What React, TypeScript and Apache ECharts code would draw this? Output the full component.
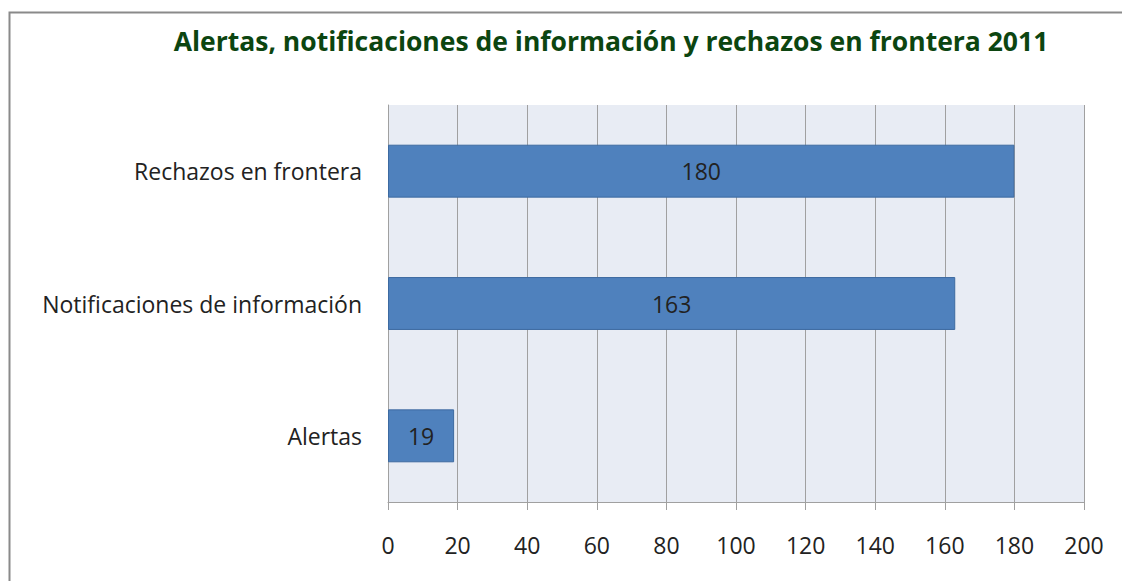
import React, { useEffect, useRef } from "react";
import * as echarts from "echarts";

const titleText = "Alertas, notificaciones de información y rechazos en frontera 2011";
const categories = ["Alertas", "Notificaciones de información", "Rechazos en frontera"];
const values = [19, 163, 180];

export default function App() {
  const ref = useRef<HTMLDivElement>(null);
  useEffect(() => {
    const chart = echarts.init(ref.current!, null, { renderer: "svg" });
    chart.setOption({
      animation: false,
      backgroundColor: "#ffffff",
      textStyle: { fontFamily: "Open Sans" },
      title: {
        text: titleText,
        left: 606,
        top: 22,
        textAlign: "center",
        textStyle: { fontFamily: "Open Sans", fontSize: 26.5, fontWeight: "bold", color: "#0c4510" },
      },
      graphic: [
        {
          type: "rect",
          shape: { x: 9.5, y: 12.5, width: 1200, height: 700 },
          style: { fill: "none", stroke: "#8a8a8a", lineWidth: 2 },
          silent: true,
        },
      ],
      grid: { left: 388, top: 105, width: 696, height: 397, containLabel: false, backgroundColor: "#e8ecf4", show: true, borderWidth: 0 },
      xAxis: {
        type: "value",
        min: 0,
        max: 200,
        interval: 20,
        axisLine: { show: true, lineStyle: { color: "#a0a0a0", width: 1 } },
        axisTick: { show: true, length: 8, lineStyle: { color: "#a0a0a0" } },
        axisLabel: { color: "#222", fontSize: 23, margin: 31, fontFamily: "Open Sans" },
        splitLine: { show: true, lineStyle: { color: "#a0a0a0", width: 1 } },
      },
      yAxis: {
        type: "category",
        data: categories,
        axisLine: { show: true, lineStyle: { color: "#a0a0a0", width: 1 } },
        axisTick: { show: false },
        axisLabel: { color: "#222", fontSize: 23, margin: 26, fontFamily: "Open Sans" },
      },
      series: [
        {
          type: "bar",
          data: values,
          barWidth: "40%",
          itemStyle: { color: "#4f81bd", borderColor: "#3d6aa0", borderWidth: 1 },
          label: { show: true, position: "inside", color: "#222", fontSize: 23, fontFamily: "Open Sans" },
        },
      ],
    });
    return () => chart.dispose();
  }, []);
  return <div ref={ref} style={{ position: "fixed", left: 0, top: 0, width: 1122, height: 581 }} />;
}
